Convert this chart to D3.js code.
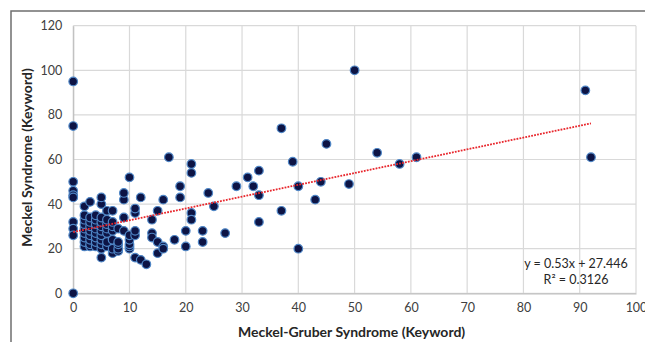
<!DOCTYPE html>
<html>
<head>
<meta charset="utf-8">
<script src="https://cdn.jsdelivr.net/npm/d3@7"></script>
<style>
  html, body { margin: 0; padding: 0; background: #fff; }
  svg { display: block; font-family: Lato, "Open Sans", sans-serif; }
</style>
</head>
<body>
<div id="chart"></div>
<script>
// data
var xTicks = [0, 10, 20, 30, 40, 50, 60, 70, 80, 90, 100];
var yTicks = [0, 20, 40, 60, 80, 100, 120];

var pointsX = [
  0, 0, 0, 0, 0, 0, 0, 0, 0, 0,
  2, 2, 2, 2, 2, 2, 2, 2, 2,
  3, 3, 3, 3, 3, 3, 3, 3, 3,
  4, 4, 4, 4, 4, 4, 4, 4,
  5, 5, 5, 5, 5, 5, 5, 5, 5, 5, 5,
  6, 6, 6, 6, 6, 6, 6,
  7, 7, 7, 7, 7, 7, 7,
  8, 8, 8, 8, 8,
  9, 9, 9, 9,
  10, 10, 10, 10, 10, 10,
  11, 11, 11, 11, 11,
  12, 12, 13, 14, 14, 14, 15, 15, 15, 16, 16, 16, 17, 18, 19, 19,
  20, 20, 21, 21, 21, 21, 23, 23, 24, 25, 27, 29, 31, 32, 33, 33, 33,
  37, 37, 39, 40, 40, 43, 44, 45, 49, 50, 54, 58, 61, 91, 92
];
var pointsY = [
  95, 75, 50, 46, 44, 43, 32, 29, 26, 0,
  21, 23, 25, 27, 29, 31, 33, 35, 39,
  21, 22, 24, 26, 28, 30, 32, 34, 41,
  21, 23, 25, 27, 29, 31, 33, 35,
  16, 20, 22, 24, 26, 28, 30, 32, 34, 40, 43,
  21, 23, 27, 29, 31, 33, 37,
  18, 20, 24, 28, 30, 32, 37,
  19, 20, 22, 23, 29,
  28, 34, 42, 45,
  20, 21, 22, 24, 26, 52,
  16, 26, 28, 36, 38,
  15, 43, 13, 33, 27, 25, 37, 23, 18, 42, 21, 20, 61, 24, 48, 43,
  21, 28, 58, 54, 36, 33, 28, 23, 45, 39, 27, 48, 52, 48, 55, 44, 32,
  74, 37, 59, 48, 20, 42, 50, 67, 49, 100, 63, 58, 61, 91, 61
];

var trendSlope = 0.53;
var trendIntercept = 27.446;
var trendRange = [0, 92];
var equationLines = ['y = 0.53x + 27.446', 'R² = 0.3126'];

var xTitle = 'Meckel-Gruber Syndrome (Keyword)';
var yTitle = 'Meckel Syndrome (Keyword)';

var width = 645, height = 342;
var plot = { left: 73.2, right: 636, top: 25.7, bottom: 293.3 };

var svg = d3.select('#chart').append('svg')
  .attr('width', width)
  .attr('height', height);

// outer chart frame (only top and left show in the crop)
svg.append('path')
  .attr('d', 'M11,' + height + 'V11H' + width)
  .attr('fill', 'none')
  .attr('stroke', '#6f6f6f')
  .attr('stroke-width', 1.5);

var x = d3.scaleLinear().domain([0, 100]).range([plot.left, plot.right]);
var y = d3.scaleLinear().domain([0, 120]).range([plot.bottom, plot.top]);

// gridlines
var grid = svg.append('g').attr('class', 'grid');
grid.selectAll('line.h')
  .data(yTicks)
  .enter().append('line')
  .attr('class', 'h')
  .attr('x1', plot.left).attr('x2', plot.right)
  .attr('y1', function (d) { return y(d); })
  .attr('y2', function (d) { return y(d); })
  .attr('stroke', '#d9d9d9')
  .attr('stroke-width', 1.2);
grid.selectAll('line.v')
  .data(xTicks)
  .enter().append('line')
  .attr('class', 'v')
  .attr('x1', function (d) { return x(d); })
  .attr('x2', function (d) { return x(d); })
  .attr('y1', plot.top).attr('y2', plot.bottom)
  .attr('stroke', '#d9d9d9')
  .attr('stroke-width', 1.2);

// axes
var xAxis = d3.axisBottom(x).tickValues(xTicks).tickSize(0).tickPadding(10);
var yAxis = d3.axisLeft(y).tickValues(yTicks).tickSize(0).tickPadding(11);

var gx = svg.append('g')
  .attr('transform', 'translate(0,' + plot.bottom + ')')
  .call(xAxis);
var gy = svg.append('g')
  .attr('transform', 'translate(' + plot.left + ',0)')
  .call(yAxis);

[gx, gy].forEach(function (g) {
  g.select('.domain').attr('stroke', '#bfbfbf').attr('stroke-width', 1.2);
  g.selectAll('text')
    .attr('fill', '#404040')
    .style('font-size', '12.5px')
    .style('font-family', 'Lato, sans-serif');
});

// axis titles
svg.append('text')
  .attr('x', (plot.left + plot.right) / 2 - 3)
  .attr('y', 337)
  .attr('text-anchor', 'middle')
  .attr('fill', '#262626')
  .style('font-size', '14px')
  .style('font-weight', 'bold')
  .text(xTitle);

svg.append('text')
  .attr('transform', 'translate(32,' + ((plot.top + plot.bottom) / 2 - 2) + ') rotate(-90)')
  .attr('text-anchor', 'middle')
  .attr('fill', '#262626')
  .style('font-size', '14px')
  .style('font-weight', 'bold')
  .text(yTitle);

// points
var points = d3.zip(pointsX, pointsY);
svg.append('g')
  .selectAll('circle')
  .data(points)
  .enter().append('circle')
  .attr('cx', function (d) { return x(d[0]); })
  .attr('cy', function (d) { return y(d[1]); })
  .attr('r', 4.3)
  .attr('fill', '#0d1445')
  .attr('stroke', '#4f86c6')
  .attr('stroke-width', 1.2);

// linear trendline
var trend = trendRange.map(function (v) { return [v, trendSlope * v + trendIntercept]; });
svg.append('path')
  .datum(trend)
  .attr('d', d3.line()
    .x(function (d) { return x(d[0]); })
    .y(function (d) { return y(d[1]); }))
  .attr('fill', 'none')
  .attr('stroke', '#e8262c')
  .attr('stroke-width', 1.8)
  .attr('stroke-dasharray', '1.8,1.2');

// equation label
svg.append('g')
  .selectAll('text')
  .data(equationLines)
  .enter().append('text')
  .attr('x', 576)
  .attr('y', function (d, i) { return 268 + i * 16; })
  .attr('text-anchor', 'middle')
  .attr('fill', '#262626')
  .style('font-size', '12.5px')
  .text(function (d) { return d; });
</script>
</body>
</html>
